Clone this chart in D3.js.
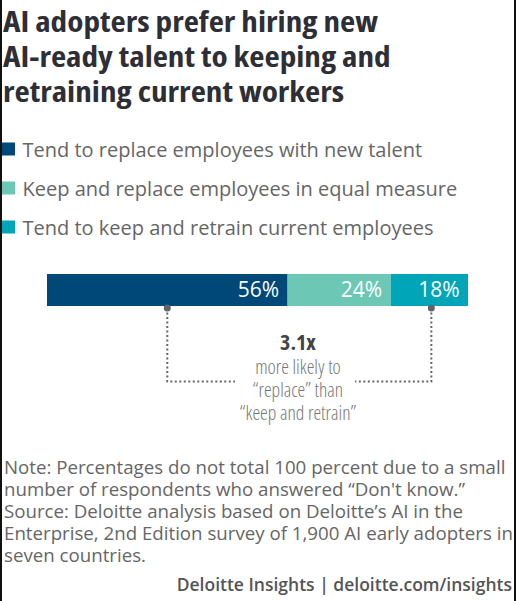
<!DOCTYPE html>
<html><head><meta charset="utf-8">
<script src="https://cdn.jsdelivr.net/npm/d3@7"></script>
<style>
html,body{margin:0;padding:0;background:#fff;}
svg{display:block;}
</style></head>
<body>
<script>
const titleLines = ["AI adopters prefer hiring new", "AI-ready talent to keeping and", "retraining current workers"];
const categories = ["Tend to replace employees with new talent", "Keep and replace employees in equal measure", "Tend to keep and retrain current employees"];
const values = [56, 24, 18];
const colors = ["#004878", "#6cc7b5", "#00a6b7"];
const calloutBig = "3.1x";
const calloutLines = ["more likely to", "\u201creplace\u201d than", "\u201ckeep and retrain\u201d"];
const noteLines = [
  "Note: Percentages do not total 100 percent due to a small",
  "number of respondents who answered \u201cDon't know.\u201d",
  "Source: Deloitte analysis based on Deloitte\u2019s AI in the",
  "Enterprise, 2nd Edition survey of 1,900 AI early adopters in",
  "seven countries."
];
const credit = "Deloitte Insights | deloitte.com/insights";

const W = 516, H = 601;
const svg = d3.select("body").append("svg").attr("width", W).attr("height", H);
svg.append("rect").attr("width", W).attr("height", H).attr("fill", "#fff");

const font = "'Open Sans', sans-serif";

// title (condensed bold, widened to the reference's line width)
const title = svg.append("g").selectAll("text").data(titleLines).join("text")
  .attr("x", 3).attr("y", (d, i) => 31.5 + i * 35)
  .attr("font-family", font).style("font-stretch", "75%")
  .attr("font-weight", 700).attr("font-size", 29).attr("fill", "#2e2e36")
  .text(d => d);
const k = 375 / title.node().getComputedTextLength();
title.each(function () {
  const w = this.getComputedTextLength();
  d3.select(this).attr("textLength", w * k).attr("lengthAdjust", "spacingAndGlyphs");
});

// legend
const lg = svg.append("g").selectAll("g").data(categories).join("g")
  .attr("transform", (d, i) => `translate(0, ${142.5 + i * 39})`);
lg.append("rect").attr("x", 2).attr("y", 0).attr("width", 13).attr("height", 13).attr("fill", (d, i) => colors[i]);
lg.append("text").attr("x", 22.5).attr("y", 14).attr("font-family", font)
  .attr("font-size", 20).attr("fill", "#666").text(d => d);

// bar
const total = d3.sum(values);
const x = d3.scaleLinear().domain([0, total]).range([47, 468]);
let cum = 0;
const segs = values.map((v, i) => { const s = {v, i, x0: cum, x1: cum + v}; cum += v; return s; });
const barY = 274, barH = 32;
svg.append("g").selectAll("rect").data(segs).join("rect")
  .attr("x", d => x(d.x0)).attr("y", barY).attr("width", d => x(d.x1) - x(d.x0)).attr("height", barH)
  .attr("fill", d => colors[d.i]);
svg.append("g").selectAll("text").data(segs).join("text")
  .attr("x", d => x(d.x1) - 8.5).attr("y", barY + 23).attr("text-anchor", "end")
  .attr("font-family", font).attr("font-size", 21).attr("fill", "#fff")
  .text(d => d.v + "%");

// callout connectors
const lx = x((segs[0].x0 + segs[0].x1) / 2), rx = x((segs[2].x0 + segs[2].x1) / 2) + 2;
const lineY = 381.5;
const cg = svg.append("g");
function path(d) {
  cg.append("path").attr("d", d).attr("stroke", "#666").attr("stroke-width", 2)
    .attr("stroke-dasharray", "2,2.5").attr("fill", "none");
}
path(`M${lx},${barY + barH + 2}V${lineY}H235`);
path(`M${rx},${barY + barH + 2}V${lineY}H355`);
cg.append("circle").attr("cx", lx).attr("cy", barY + barH + 2).attr("r", 3.5).attr("fill", "#5f6270");
cg.append("circle").attr("cx", rx).attr("cy", barY + barH + 2).attr("r", 3.5).attr("fill", "#5f6270");

const cx = 298;
cg.append("text").attr("x", cx).attr("y", 350).attr("text-anchor", "middle")
  .attr("font-family", font).style("font-stretch", "75%")
  .attr("font-weight", 700).attr("font-size", 22).attr("fill", "#444").text(calloutBig);
cg.selectAll("text.c").data(calloutLines).join("text").attr("class", "c")
  .attr("x", cx).attr("y", (d, i) => 373.5 + i * 23).attr("text-anchor", "middle")
  .attr("font-family", font).style("font-stretch", "75%")
  .attr("font-weight", 300).attr("font-size", 19.5).attr("fill", "#777").text(d => d);

// notes
svg.append("g").selectAll("text").data(noteLines).join("text")
  .attr("x", 4).attr("y", (d, i) => 473.5 + i * 22)
  .attr("font-family", font).attr("font-size", 18.7).attr("fill", "#666")
  .text(d => d);
svg.append("text").attr("x", 512).attr("y", 591).attr("text-anchor", "end")
  .attr("font-family", font).attr("font-weight", 600).attr("font-size", 17.5).attr("fill", "#555")
  .text(credit);

// side borders
svg.append("rect").attr("x", 0).attr("y", 0).attr("width", 2).attr("height", H).attr("fill", "#111");
svg.append("rect").attr("x", 514).attr("y", 0).attr("width", 2).attr("height", H).attr("fill", "#111");
</script>
</body></html>
